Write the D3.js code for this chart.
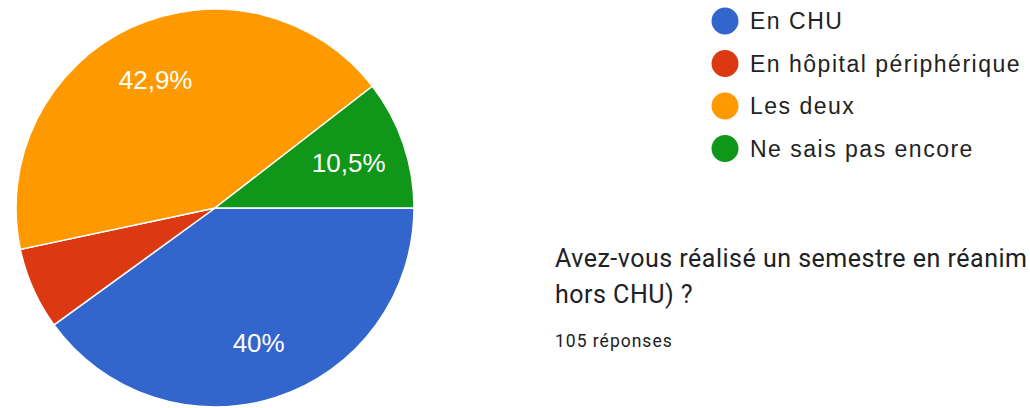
<!DOCTYPE html>
<html>
<head>
<meta charset="utf-8">
<script src="https://cdn.jsdelivr.net/npm/d3@7"></script>
<style>
  body { margin: 0; background: #fff; overflow: hidden; }
</style>
</head>
<body>
<div id="chart"></div>
<script>
// answers and counts (105 responses)
let categories = ['En CHU', 'En hôpital périphérique', 'Les deux', 'Ne sais pas encore'];
let counts = [42, 7, 45, 11];
let colors = ['#3366cc', '#dc3912', '#ff9900', '#109618'];
// the question is cut at the right edge in the screenshot
let title = ['Avez-vous réalisé un semestre en réanim', 'hors CHU) ?'];
let subtitle = '105 réponses';

let width = 1030, height = 408;
let cx = 215, cy = 208, radius = 199;

let svg = d3.select('#chart').append('svg')
    .attr('width', width)
    .attr('height', height);

let total = d3.sum(counts);
let data = categories.map(function(c, i){ return {name: c, value: counts[i], color: colors[i]}; });

// pie starts at 3 o'clock and goes clockwise
let pie = d3.pie()
    .value(function(d){ return d.value; })
    .sort(null)
    .startAngle(Math.PI / 2)
    .endAngle(Math.PI / 2 + 2 * Math.PI);

let arc = d3.arc().innerRadius(0).outerRadius(radius);
let labelArc = d3.arc().innerRadius(radius * 0.71).outerRadius(radius * 0.71);

let g = svg.append('g').attr('transform', 'translate(' + cx + ',' + cy + ')');

let slices = pie(data);

g.selectAll('path')
    .data(slices)
    .enter().append('path')
    .attr('d', arc)
    .attr('fill', function(d){ return d.data.color; })
    .attr('stroke', '#fff')
    .attr('stroke-width', 1.5);

// percent labels (small slices get none)
let fmt = function(v){
    let p = Math.round(v / total * 1000) / 10;
    return String(p).replace('.', ',') + '%';
};

g.selectAll('text.pct')
    .data(slices.filter(function(d){ return d.data.value / total > 0.08; }))
    .enter().append('text')
    .attr('class', 'pct')
    .attr('transform', function(d){ return 'translate(' + labelArc.centroid(d) + ')'; })
    .attr('text-anchor', 'middle')
    .attr('dy', '0.36em')
    .attr('fill', '#fff')
    .style('font-family', 'Liberation Sans, Arial, sans-serif')
    .style('font-size', '26px')
    .text(function(d){ return fmt(d.data.value); });

// legend
let legend = svg.append('g').attr('transform', 'translate(725,21)');
let rowH = 42.5;

legend.selectAll('circle')
    .data(data)
    .enter().append('circle')
    .attr('cx', 0)
    .attr('cy', function(d, i){ return i * rowH; })
    .attr('r', 13.5)
    .attr('fill', function(d){ return d.color; });

legend.selectAll('text')
    .data(data)
    .enter().append('text')
    .attr('x', 25)
    .attr('y', function(d, i){ return i * rowH; })
    .attr('dy', '0.36em')
    .attr('fill', '#222')
    .style('font-family', 'Liberation Sans, Arial, sans-serif')
    .style('font-size', '23px')
    .style('letter-spacing', '1.5px')
    .text(function(d){ return d.name; });

// question title
svg.selectAll('text.title')
    .data(title)
    .enter().append('text')
    .attr('class', 'title')
    .attr('x', 555)
    .attr('y', function(d, i){ return 267 + i * 36; })
    .attr('fill', '#202124')
    .style('font-family', 'Roboto, sans-serif')
    .style('font-size', '25px')
    .style('letter-spacing', '0.5px')
    .text(function(d){ return d; });

svg.append('text')
    .attr('x', 555)
    .attr('y', 347)
    .attr('fill', '#202124')
    .style('font-family', 'Roboto, sans-serif')
    .style('font-size', '17.5px')
    .style('letter-spacing', '1px')
    .text(subtitle);
</script>
</body>
</html>
